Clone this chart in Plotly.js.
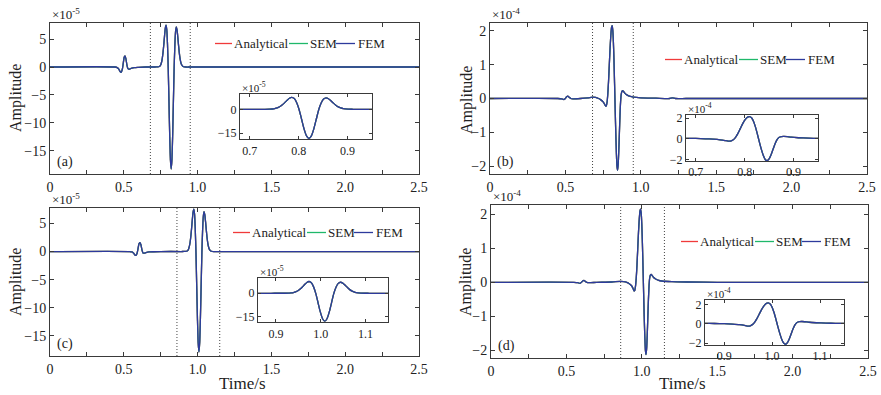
<!DOCTYPE html>
<html>
<head>
<meta charset="utf-8">
<script src="https://cdn.plot.ly/plotly-3.0.1.min.js"></script>
<style>html,body{margin:0;padding:0;background:#fff;}#chart{width:881px;height:395px;}</style>
</head>
<body>
<div id="chart"></div>
<script>
// ---------- data ----------
// Panel (a): time (s) and amplitude (x1e-5); Analytical, SEM and FEM coincide
const timeA = [0,0.44,0.455,0.465,0.475,0.482,0.49,0.497,0.503,0.508,0.514,0.521,0.528,0.536,0.55,0.57,0.6,0.65,
  0.701,0.721,0.731,0.741,0.746,0.751,0.756,0.761,0.766,0.771,0.776,0.781,0.786,0.791,0.796,0.801,0.806,0.811,0.816,
  0.821,0.826,0.831,0.836,0.841,0.846,0.851,0.856,0.861,0.866,0.871,0.876,0.881,0.886,0.891,0.901,0.911,0.921,0.95,1.2,1.5,2.0,2.5];
const ampA = [0,0,-0.1,-0.35,-0.8,-0.95,-0.4,0.8,1.8,2.0,1.5,0.4,-0.3,-0.4,-0.25,-0.1,-0.05,0,
  0,0.01,0.02,0.1,0.2,0.46,0.9,1.61,2.67,4.05,5.59,6.94,7.52,6.73,4.14,-0.25,-6.25,-12.24,-16.67,
  -18.3,-16.67,-12.24,-6.25,-0.25,3.96,6.43,7.19,6.64,5.35,3.87,2.55,1.54,0.86,0.44,0.10,0.02,0,0,0,0,0,0];

// Panel (b): amplitude (x1e-4)
const timeB = [0,0.45,0.475,0.49,0.5,0.508,0.516,0.525,0.535,0.55,0.6,0.65,0.68,0.7,0.72,0.735,0.75,0.76,0.766,0.771,
  0.776,0.781,0.786,0.791,0.796,0.801,0.806,0.81,0.814,0.818,0.822,0.826,0.83,0.834,0.838,0.842,0.846,0.85,0.854,0.858,
  0.862,0.866,0.87,0.875,0.88,0.887,0.895,0.91,0.93,0.95,1.0,1.1,1.19,1.21,1.23,1.3,2.5];
const ampB = [0,0,-0.01,-0.03,0,0.05,0.07,0.04,0,-0.01,0,0.02,0.04,0.03,0,-0.04,-0.1,-0.17,-0.22,-0.22,
  -0.12,0.12,0.5,0.98,1.46,1.85,2.1,2.15,2.03,1.7,1.15,0.45,-0.3,-1.0,-1.6,-2.0,-2.12,-1.95,-1.55,-1.02,
  -0.5,-0.1,0.12,0.21,0.23,0.2,0.15,0.1,0.06,0.04,0.02,0.01,0,0.02,0,0,0];

// Panel (c): amplitude (x1e-5)
const timeC = [0,0.54,0.555,0.565,0.575,0.582,0.59,0.597,0.603,0.61,0.616,0.623,0.63,0.638,0.65,0.67,0.7,0.75,
  0.889,0.909,0.919,0.929,0.934,0.939,0.944,0.949,0.954,0.959,0.964,0.969,0.974,0.979,0.984,0.989,0.994,0.999,1.004,
  1.009,1.014,1.019,1.024,1.029,1.034,1.039,1.044,1.049,1.054,1.059,1.064,1.069,1.074,1.079,1.089,1.099,1.109,1.14,1.35,1.5,2.0,2.5];
const ampC = [0,0,-0.07,-0.25,-0.6,-0.7,-0.3,0.6,1.4,1.6,1.2,0.3,-0.25,-0.3,-0.2,-0.08,-0.04,0,
  0,0.01,0.02,0.1,0.2,0.46,0.9,1.61,2.67,4.05,5.6,6.95,7.55,6.75,4.1,-0.25,-6.1,-11.95,-16.3,
  -17.9,-16.3,-11.95,-6.1,-0.25,3.9,6.33,7.08,6.54,5.27,3.81,2.5,1.5,0.85,0.43,0.1,0.02,0,0,0,0,0,0];

// Panel (d): amplitude (x1e-4)
const timeD = [0,0.55,0.575,0.59,0.6,0.608,0.616,0.625,0.635,0.65,0.7,0.8,0.86,0.88,0.9,0.917,0.932,0.942,0.948,0.953,
  0.958,0.963,0.968,0.973,0.978,0.983,0.988,0.992,0.996,1.0,1.004,1.008,1.012,1.016,1.02,1.024,1.028,1.032,1.036,1.04,
  1.044,1.048,1.052,1.057,1.062,1.069,1.077,1.092,1.112,1.132,1.2,1.3,1.5,2.5];
const ampD = [0,0,-0.01,-0.03,0,0.04,0.06,0.03,0,-0.01,0,0.01,0.03,0.02,0,-0.04,-0.1,-0.18,-0.25,-0.24,
  -0.12,0.12,0.5,0.98,1.46,1.85,2.1,2.15,2.03,1.7,1.15,0.45,-0.3,-1.0,-1.6,-2.0,-2.12,-1.95,-1.55,-1.02,
  -0.5,-0.1,0.12,0.21,0.23,0.2,0.15,0.1,0.06,0.04,0.02,0.01,0,0];

// Zoom windows (dotted lines / inset ranges)
const windowAB = [0.68, 0.95];
const windowCD = [0.86, 1.15];

// Tick labels
const mainXTicks = [0, 0.5, 1.0, 1.5, 2.0, 2.5];
const mainXTickText = ['0', '0.5', '1.0', '1.5', '2.0', '2.5'];
const yTicks5 = [-15, -10, -5, 0, 5];
const yTicks4 = [-2, -1, 0, 1, 2];
const insetXTicksAB = [0.7, 0.8, 0.9];
const insetXTicksCD = [0.9, 1.0, 1.1];
const insetYTicks5 = [-15, 0];
const insetYTicks4 = [-2, 0, 2];

const seriesNames = ['Analytical', 'SEM', 'FEM'];
const seriesColors = ['#f03a3a', '#1fb86a', '#2d3a9c'];
const yTitle = 'Amplitude';
const xTitle = 'Time/s';

// ---------- build ----------
const W = 881, H = 395;
const px = (a, b) => [a / W, b / W];
const py = (top, bottom) => [1 - bottom / H, 1 - top / H];

const panels = [
  {t: timeA, a: ampA, win: windowAB, main: {x: px(50, 419), y: py(23, 174), range: [-19.2, 7.9], ticks: yTicks5},
   inset: {x: px(240, 372), y: py(94, 139.3), range: [-18.8, 9.6], ticks: insetYTicks5, xt: insetXTicksAB},
   leg: {x: 215, y: 43.5}, ytitle: {x: 16, y: 98}, exp: '×10<sup>-5</sup>', label: '(a)'},
  {t: timeB, a: ampB, win: windowAB, main: {x: px(490, 867), y: py(23, 174), range: [-2.23, 2.23], ticks: yTicks4},
   inset: {x: px(686, 818), y: py(115, 161), range: [-2.15, 2.3], ticks: insetYTicks4, xt: insetXTicksAB},
   leg: {x: 665, y: 59.5}, ytitle: {x: 467, y: 100}, exp: '×10<sup>-4</sup>', label: '(b)'},
  {t: timeC, a: ampC, win: windowCD, main: {x: px(50, 419), y: py(208, 356), range: [-18.6, 7.75], ticks: yTicks5},
   inset: {x: px(258, 388), y: py(278.3, 322.3), range: [-18.6, 9.6], ticks: insetYTicks5, xt: insetXTicksCD},
   leg: {x: 233, y: 232.5}, ytitle: {x: 16, y: 282}, exp: '×10<sup>-5</sup>', label: '(c)', xtitle: {x: 242, y: 383}},
  {t: timeD, a: ampD, win: windowCD, main: {x: px(491, 868), y: py(205, 358), range: [-2.22, 2.27], ticks: yTicks4},
   inset: {x: px(705, 844), y: py(299.5, 345), range: [-2.2, 2.5], ticks: insetYTicks4, xt: insetXTicksCD},
   leg: {x: 681, y: 241.5}, ytitle: {x: 466, y: 282}, exp: '×10<sup>-4</sup>', label: '(d)', xtitle: {x: 682, y: 383}}
];

const lineCol = '#3a3a3a';
const traces = [];
const layout = {
  width: W, height: H,
  margin: {l: 0, r: 0, t: 0, b: 0},
  paper_bgcolor: '#ffffff', plot_bgcolor: '#ffffff',
  font: {family: 'Liberation Serif, Times New Roman, serif', color: '#222', size: 14},
  showlegend: false,
  shapes: [], annotations: []
};

function axisBase(extra) {
  return Object.assign({
    showline: true, linecolor: lineCol, linewidth: 1, mirror: 'ticks',
    ticks: 'inside', ticklen: 4, tickcolor: lineCol, tickwidth: 1,
    showgrid: false, zeroline: false, fixedrange: true
  }, extra);
}
const fx = v => v / W, fy = v => 1 - v / H;

// legend layout offsets (px) relative to the legend start: line sample, then label
const legSample = [[0, 17], [74, 93], [121, 140]];
const legText = [18, 94, 142];

panels.forEach((p, i) => {
  const mi = 2 * i + 1, ii = 2 * i + 2;
  const mx = 'x' + (mi === 1 ? '' : mi), my = 'y' + (mi === 1 ? '' : mi);
  const ix = 'x' + ii, iy = 'y' + ii;
  const mxKey = 'xaxis' + (mi === 1 ? '' : mi), myKey = 'yaxis' + (mi === 1 ? '' : mi);

  layout[mxKey] = axisBase({
    domain: p.main.x, anchor: my, range: [0, 2.5],
    tickmode: 'array', tickvals: mainXTicks, ticktext: mainXTickText,
    tickfont: {size: 14},
    minor: {tickmode: 'linear', tick0: 0, dtick: 0.25, ticks: 'inside', ticklen: 4, tickcolor: lineCol, showgrid: false}
  });
  layout[myKey] = axisBase({
    domain: p.main.y, anchor: mx, range: p.main.range,
    tickmode: 'array', tickvals: p.main.ticks, tickfont: {size: 14}
  });
  layout['xaxis' + ii] = axisBase({
    domain: p.inset.x, anchor: iy, range: p.win,
    tickmode: 'array', tickvals: p.inset.xt, ticktext: p.inset.xt.map(v => v.toFixed(1)),
    tickfont: {size: 12}, ticklen: 3
  });
  layout['yaxis' + ii] = axisBase({
    domain: p.inset.y, anchor: ix, range: p.inset.range,
    tickmode: 'array', tickvals: p.inset.ticks, tickfont: {size: 12}, ticklen: 3
  });

  seriesNames.forEach((name, k) => {
    traces.push({
      type: 'scatter', mode: 'lines', x: p.t, y: p.a, name: name,
      xaxis: mx, yaxis: my,
      line: {color: seriesColors[k], width: 1.3, shape: 'spline', smoothing: 0.6},
      hoverinfo: 'skip'
    });
  });
  seriesNames.forEach((name, k) => {
    traces.push({
      type: 'scatter', mode: 'lines', x: p.t, y: p.a, name: name,
      xaxis: ix, yaxis: iy,
      line: {color: seriesColors[k], width: 1.3, shape: 'spline', smoothing: 0.6},
      hoverinfo: 'skip'
    });
  });

  // legend: line samples + labels
  seriesNames.forEach((name, k) => {
    layout.shapes.push({type: 'line', xref: 'paper', yref: 'paper',
      x0: fx(p.leg.x + legSample[k][0]), x1: fx(p.leg.x + legSample[k][1]), y0: fy(p.leg.y), y1: fy(p.leg.y),
      line: {color: seriesColors[k], width: 1.3}});
    layout.annotations.push({xref: 'paper', yref: 'paper', x: fx(p.leg.x + legText[k]), y: fy(p.leg.y),
      xanchor: 'left', yanchor: 'middle', text: name, showarrow: false, font: {size: 13}, borderpad: 0});
  });

  p.win.forEach(w => {
    layout.shapes.push({type: 'line', xref: mx, yref: my + ' domain', x0: w, x1: w, y0: 0, y1: 1,
      line: {color: '#444', width: 1, dash: '1px,2px'}, layer: 'below'});
  });

  // axis titles
  layout.annotations.push({xref: 'paper', yref: 'paper', x: fx(p.ytitle.x), y: fy(p.ytitle.y), xanchor: 'center', yanchor: 'middle',
    text: yTitle, textangle: -90, showarrow: false, font: {size: 16}});
  if (p.xtitle) {
    layout.annotations.push({xref: 'paper', yref: 'paper', x: fx(p.xtitle.x), y: fy(p.xtitle.y), xanchor: 'center', yanchor: 'middle',
      text: xTitle, showarrow: false, font: {size: 17}});
  }
  // exponent labels
  layout.annotations.push({xref: 'paper', yref: 'paper', x: p.main.x[0], y: p.main.y[1], xanchor: 'left', yanchor: 'bottom',
    text: p.exp, showarrow: false, font: {size: 13}, yshift: -1});
  layout.annotations.push({xref: 'paper', yref: 'paper', x: p.inset.x[0], y: p.inset.y[1], xanchor: 'left', yanchor: 'bottom',
    text: p.exp, showarrow: false, font: {size: 11}, yshift: -2});
  // panel label
  layout.annotations.push({xref: 'paper', yref: 'paper', x: p.main.x[0], y: p.main.y[0], xanchor: 'left', yanchor: 'bottom',
    xshift: 5, yshift: 2, text: p.label, showarrow: false, font: {size: 14}});
});

Plotly.newPlot('chart', traces, layout, {displayModeBar: false, staticPlot: true});
</script>
</body>
</html>
